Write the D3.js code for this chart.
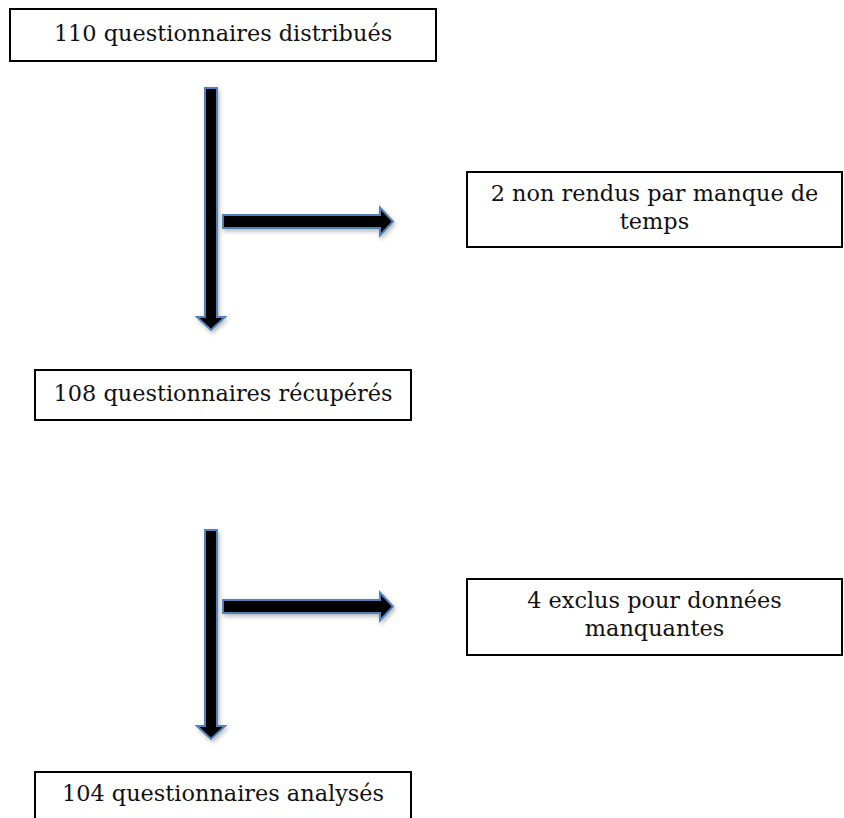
<!DOCTYPE html>
<html>
<head>
<meta charset="utf-8">
<script src="https://cdn.jsdelivr.net/npm/d3@7"></script>
<style>
  body { margin: 0; background: #fff; }
  text { font-family: "DejaVu Serif", "Liberation Serif", serif; fill: #111; }
</style>
</head>
<body>
<div id="chart"></div>
<script>
// flow steps (main column) and exclusions (side boxes)
var steps = ["110 questionnaires distribués", "108 questionnaires récupérés", "104 questionnaires analysés"];
var excluded = [["2 non rendus par manque de", "temps"], ["4 exclus pour données", "manquantes"]];

var width = 844, height = 818;
var fontSize = 22.4;

var svg = d3.select("#chart")
    .append("svg")
    .attr("width", width)
    .attr("height", height);

var defs = svg.append("defs");
var shadow = defs.append("filter")
    .attr("id", "shadow")
    .attr("x", "-50%").attr("y", "-50%")
    .attr("width", "200%").attr("height", "200%");
shadow.append("feDropShadow")
    .attr("dx", 1.5).attr("dy", 2.5)
    .attr("stdDeviation", 2.2)
    .attr("flood-color", "#000")
    .attr("flood-opacity", 0.28);

// vertical layout of main boxes
var mainBoxes = [
    {x: 10, y: 9, w: 426, h: 52, base: 41},
    {x: 35, y: 370, w: 376, h: 50, base: 401},
    {x: 35, y: 772, w: 376, h: 60, base: 801}
];
var sideBoxes = [
    {x: 467, y: 172, w: 375, h: 75, base: 201},
    {x: 467, y: 579, w: 375, h: 76, base: 608}
];
// arrows between the steps
var arrowLayout = [
    {top: 88, tip: 330, branchY: 221.5},
    {top: 530, tip: 739, branchY: 606.5}
];

var lineHeight = 28;
var colX = 211, shaftW = 12, headHalf = 14, headLen = 13;
var branchStart = 223, branchTip = 393;

function downArrow(top, tip) {
    var hs = tip - headLen;
    return "M" + (colX - shaftW/2) + "," + top +
        "L" + (colX + shaftW/2) + "," + top +
        "L" + (colX + shaftW/2) + "," + hs +
        "L" + (colX + headHalf) + "," + hs +
        "L" + colX + "," + tip +
        "L" + (colX - headHalf) + "," + hs +
        "L" + (colX - shaftW/2) + "," + hs + "Z";
}
function rightArrow(cy) {
    var hs = branchTip - headLen;
    var sh = 6.5;
    return "M" + branchStart + "," + (cy - sh) +
        "L" + hs + "," + (cy - sh) +
        "L" + hs + "," + (cy - headHalf) +
        "L" + branchTip + "," + cy +
        "L" + hs + "," + (cy + headHalf) +
        "L" + hs + "," + (cy + sh) +
        "L" + branchStart + "," + (cy + sh) + "Z";
}

// arrows
var arrows = svg.append("g").attr("class", "arrows");
arrowLayout.forEach(function (a) {
    arrows.append("path")
        .attr("d", downArrow(a.top, a.tip))
        .attr("fill", "#000")
        .attr("stroke", "#4f81bd")
        .attr("stroke-width", 2)
        .attr("filter", "url(#shadow)");
    arrows.append("path")
        .attr("d", rightArrow(a.branchY))
        .attr("fill", "#000")
        .attr("stroke", "#4f81bd")
        .attr("stroke-width", 2)
        .attr("filter", "url(#shadow)");
});

// main boxes
var main = svg.append("g").selectAll("g")
    .data(steps)
    .enter().append("g");
main.append("rect")
    .attr("x", function (d, i) { return mainBoxes[i].x; })
    .attr("y", function (d, i) { return mainBoxes[i].y; })
    .attr("width", function (d, i) { return mainBoxes[i].w; })
    .attr("height", function (d, i) { return mainBoxes[i].h; })
    .attr("fill", "#fff")
    .attr("stroke", "#000")
    .attr("stroke-width", 2);
main.append("text")
    .attr("x", function (d, i) { return mainBoxes[i].x + mainBoxes[i].w/2; })
    .attr("y", function (d, i) { return mainBoxes[i].base; })
    .attr("text-anchor", "middle")
    .style("font-size", fontSize + "px")
    .text(function (d) { return d; });

// side boxes
var side = svg.append("g").selectAll("g")
    .data(excluded)
    .enter().append("g");
side.append("rect")
    .attr("x", function (d, i) { return sideBoxes[i].x; })
    .attr("y", function (d, i) { return sideBoxes[i].y; })
    .attr("width", function (d, i) { return sideBoxes[i].w; })
    .attr("height", function (d, i) { return sideBoxes[i].h; })
    .attr("fill", "#fff")
    .attr("stroke", "#000")
    .attr("stroke-width", 2);
side.each(function (lines, i) {
    var b = sideBoxes[i];
    d3.select(this).selectAll("text")
        .data(lines)
        .enter().append("text")
        .attr("x", b.x + b.w/2)
        .attr("y", function (d, j) { return b.base + j * lineHeight; })
        .attr("text-anchor", "middle")
        .style("font-size", fontSize + "px")
        .text(function (d) { return d; });
});
</script>
</body>
</html>
